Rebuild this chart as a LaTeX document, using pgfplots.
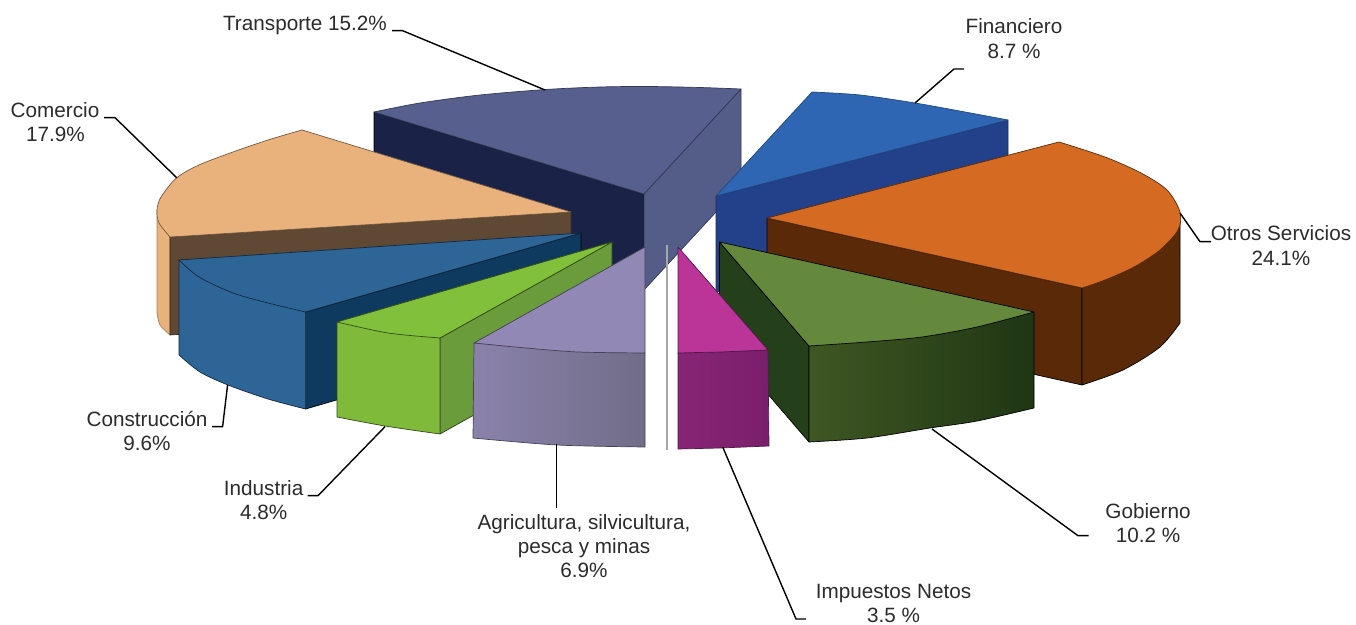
\documentclass[border=0pt]{standalone}
\usepackage{pgfplots}
\pgfplotsset{compat=1.18}
\usepackage{fontspec}
\setmainfont{Liberation Sans}
\definecolor{tt}{HTML}{565F8E}\definecolor{td}{HTML}{1A2347}\definecolor{tr}{HTML}{545D88}
\definecolor{ft}{HTML}{2E66B4}\definecolor{fs}{HTML}{23418A}
\definecolor{ot}{HTML}{D56B22}\definecolor{os}{HTML}{5A2A08}
\definecolor{gt}{HTML}{64893C}\definecolor{gl}{HTML}{24401A}\definecolor{ga}{HTML}{3F5722}\definecolor{gb}{HTML}{1F3614}
\definecolor{it}{HTML}{BA3597}\definecolor{ia}{HTML}{872575}\definecolor{ib}{HTML}{7A1F6C}
\definecolor{at}{HTML}{9188B6}\definecolor{aa}{HTML}{8A82AB}\definecolor{ab}{HTML}{716D88}
\definecolor{nt}{HTML}{80C03A}\definecolor{nf}{HTML}{80BA3A}\definecolor{ns}{HTML}{6A9C3C}
\definecolor{ct}{HTML}{2E6597}\definecolor{cs}{HTML}{0F3A5F}
\definecolor{mt}{HTML}{E9B27D}\definecolor{ms}{HTML}{5F4935}
\definecolor{txt}{HTML}{2B2B2B}
\tikzset{
  lab/.style={anchor=base,font=\fontsize{10.35}{12}\selectfont,text=txt,inner sep=0pt},
  lead/.style={draw=black,line width=0.7pt},
}
\begin{document}
\begin{tikzpicture}
\begin{axis}[
  x=0.5pt,y=-0.5pt,xmin=0,xmax=1356,ymin=0,ymax=625,
  hide axis,clip=false,scale only axis,
  every axis plot/.append style={no markers,line width=0.35pt,line join=round},
]
% page corners, so that the picture has the reference's extent
\addplot[draw=none] coordinates {(0,0)(1356,625)};
% Transporte
\addplot[fill=td,draw=black] coordinates {(374,112)(644,194)(644,290)(374,208)(374,112)};
\addplot[fill=tr,draw=tr!60!black] coordinates {(644,194)(741,89)(741,185)(644,290)(644,194)};
\addplot[fill=tt,draw=tt!60!black,smooth] coordinates {(374,112)(420,103)(480,95)(546,89.5)(600,87)(648,86.5)(700,87.5)(741,89)} -- (axis cs:644,194) -- cycle;
% Financiero
\addplot[fill=fs,draw=fs!70!black] coordinates {(716,196)(1008,120)(1008,216)(716,292)(716,196)};
\addplot[fill=ft,draw=ft!70!black,smooth] coordinates {(812,92)(860,95)(915,103)(965,112)(1008,120)} -- (axis cs:716,196) -- cycle;
% Otros Servicios
\addplot[fill=os,draw=black] coordinates {(767,218)(1082,288)(1082,385)(767,315)(767,218)};
\addplot[fill=os,draw=black,smooth] coordinates {(1180,323)(1160,347)(1123,370)(1082,385)} -- (axis cs:1082,288) -- (axis cs:1180,216) -- cycle;
\addplot[fill=ot,draw=ot!40!black,smooth] coordinates {(1059,142)(1105,157)(1141,173)(1167,190)(1180,212)(1178,230)(1160,250)(1134,267)(1105,280)(1082,288)} -- (axis cs:767,218) -- cycle;
% Gobierno
\addplot[fill=gl,draw=black] coordinates {(719.5,242)(809,346)(809,442)(719.5,338)(719.5,242)};
\addplot[left color=ga,right color=gb,draw=black,smooth] coordinates {(809,442)(867,438)(930,428)(977,421)(1034,408)} -- (axis cs:1034,312) -- (axis cs:809,346) -- cycle;
\addplot[fill=gt,draw=black,smooth] coordinates {(809,346)(867,342)(922,337)(977,327)(1034,312)} -- (axis cs:719.5,242) -- cycle;
% Impuestos
\addplot[draw=gray!70,line width=0.9pt] coordinates {(667,245)(667,450)};
\addplot[left color=ia,right color=ib,draw=ib!70!black] coordinates {(678,353)(720,352)(768,350)(769,446)(720,448)(678,449)(678,353)};
\addplot[fill=it,draw=ib!70!black] coordinates {(678,247)(768,350)(720,352)(678,353)(678,247)};
% Comercio
\addplot[fill=mt,draw=mt!70!black,smooth] coordinates {(157,313)(160,325)(170,335)} -- (axis cs:170,237) -- (axis cs:157,210) -- cycle;
\addplot[fill=ms,draw=ms!60!black] coordinates {(571,212)(170,237)(170,335)(571,308)(571,212)};
\addplot[fill=mt,draw=mt!50!black,smooth] coordinates {(302,130)(268,140)(233,152)(199,165)(176.5,178)(161,197)(157,210)(159,223)(170,237)} -- (axis cs:571,212) -- cycle;
% Construccion
\addplot[fill=cs,draw=black] coordinates {(581,233)(305.6,312)(305.6,409)(581,329)(581,233)};
\addplot[fill=ct,draw=ct!40!black,smooth] coordinates {(179,355)(200,372)(228,385)(268,399)(305.6,409)} -- (axis cs:305.6,312) -- (axis cs:179,260) -- cycle;
\addplot[fill=ct,draw=ct!40!black,smooth] coordinates {(179,260)(199,277)(233,293)(268,303)(305.6,312)} -- (axis cs:581,233) -- cycle;
% Industria
\addplot[fill=ns,draw=ns!40!black] coordinates {(612,242)(440,338)(440,434)(612,338)(612,242)};
\addplot[fill=nf,draw=nf!40!black,smooth] coordinates {(337,417)(385,426)(440,434)} -- (axis cs:440,338) -- (axis cs:337,322) -- cycle;
\addplot[fill=nt,draw=nt!40!black,smooth] coordinates {(337,322)(388,333)(440,338)} -- (axis cs:612,242) -- cycle;
% Agricultura
\addplot[left color=aa,right color=ab,draw=ab!60!black,smooth] coordinates {(473,438)(557,445)(645,447)} -- (axis cs:645,353) -- (axis cs:474,343) -- cycle;
\addplot[fill=at,draw=ab!60!black,smooth] coordinates {(474,343)(526,348)(578,352)(645,353)} -- (axis cs:645,247) -- cycle;
% leaders
\addplot[lead] coordinates {(392,30.7)(402.6,30.7)(545,90)};
\addplot[lead] coordinates {(104,117.7)(115,117.7)(177,178)};
\addplot[lead] coordinates {(964,69)(954,69)(915,103)};
\addplot[lead] coordinates {(1211,241.7)(1200,241.7)(1180,213)};
\addplot[lead] coordinates {(212,426.7)(222.6,426.7)(227.6,385)};
\addplot[lead] coordinates {(307.6,495.7)(318,495.7)(385,426.7)};
\addplot[lead] coordinates {(556.7,444)(556.7,508)};
\addplot[lead] coordinates {(722.7,447)(796,619)(806,619)};
\addplot[lead] coordinates {(932,429)(1078,535.7)(1088.6,535.7)};
% labels
\node[lab] at (axis cs:305,31) {Transporte 15.2\%};
\node[lab] at (axis cs:55,118) {Comercio};
\node[lab] at (axis cs:55.5,142) {17.9\%};
\node[lab] at (axis cs:1014,34) {Financiero};
\node[lab] at (axis cs:1014,59) {8.7 \%};
\node[lab] at (axis cs:1281,241) {Otros Servicios};
\node[lab] at (axis cs:1281,266) {24.1\%};
\node[lab] at (axis cs:147,427) {Construcción};
\node[lab] at (axis cs:147,451) {9.6\%};
\node[lab] at (axis cs:263.6,496) {Industria};
\node[lab] at (axis cs:263.6,520) {4.8\%};
\node[lab] at (axis cs:584,529.7) {Agricultura, silvicultura,};
\node[lab] at (axis cs:584,553.7) {pesca y minas};
\node[lab] at (axis cs:584,577.7) {6.9\%};
\node[lab] at (axis cs:1148,519) {Gobierno};
\node[lab] at (axis cs:1148,543) {10.2 \%};
\node[lab] at (axis cs:893.5,598.7) {Impuestos Netos};
\node[lab] at (axis cs:893.5,623) {3.5 \%};
\end{axis}
\end{tikzpicture}
\end{document}
